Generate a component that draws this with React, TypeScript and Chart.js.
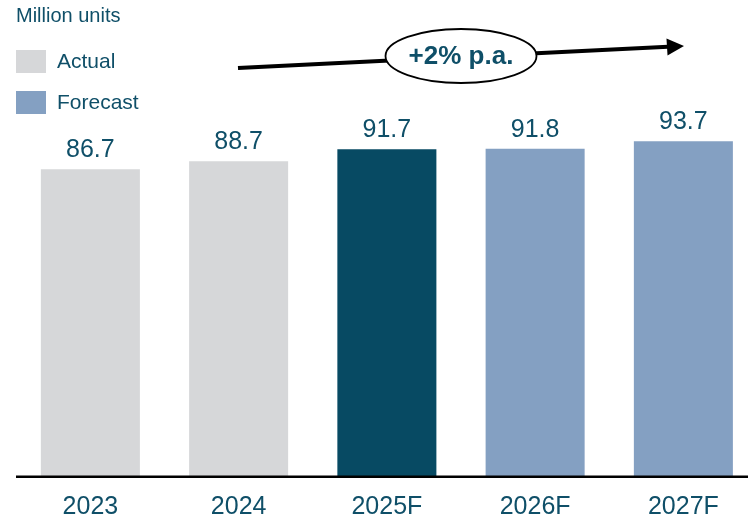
import { useEffect, useRef } from 'react';
import { Chart, registerables } from 'chart.js';

Chart.register(...registerables);

const categories = ['2023', '2024', '2025F', '2026F', '2027F'];
const values = [86.7, 88.7, 91.7, 91.8, 93.7];
const valueLabels = ['86.7', '88.7', '91.7', '91.8', '93.7'];
const barColors = ['#d6d7d9', '#d6d7d9', '#074a63', '#84a0c2', '#84a0c2'];
const legendItems = ['Actual', 'Forecast'];
const legendColors = ['#d6d7d9', '#84a0c2'];
const unitLabel = 'Million units';
const growthLabel = '+2% p.a.';

const TEXT = '#0f4f68';
const FONT = '"Liberation Sans", Arial, sans-serif';

const overlay = {
  id: 'overlay',
  afterDatasetsDraw(chart: any) {
    const ctx = chart.ctx as CanvasRenderingContext2D;
    ctx.save();

    // baseline axis
    ctx.fillStyle = '#000';
    ctx.fillRect(16, 475.5, 732, 2.5);

    // value labels
    const meta = chart.getDatasetMeta(0);
    ctx.font = `25px ${FONT}`;
    ctx.fillStyle = TEXT;
    ctx.textAlign = 'center';
    ctx.textBaseline = 'alphabetic';
    meta.data.forEach((el: any, i: number) => {
      ctx.fillText(valueLabels[i], el.x, el.y - 12);
    });

    // unit title
    ctx.textAlign = 'left';
    ctx.textBaseline = 'middle';
    ctx.font = `20px ${FONT}`;
    ctx.fillText(unitLabel, 16, 16);

    // legend
    ctx.font = `21px ${FONT}`;
    const legendY = [50, 91];
    legendItems.forEach((t, i) => {
      ctx.fillStyle = legendColors[i];
      ctx.fillRect(16, legendY[i], 30, 23);
      ctx.fillStyle = TEXT;
      ctx.fillText(t, 57, legendY[i] + 12);
    });

    // growth arrow
    ctx.strokeStyle = '#000';
    ctx.lineWidth = 4;
    ctx.beginPath();
    ctx.moveTo(238, 68);
    ctx.lineTo(668, 46.8);
    ctx.stroke();
    ctx.fillStyle = '#000';
    ctx.beginPath();
    ctx.moveTo(684, 46);
    ctx.lineTo(666.5, 38.5);
    ctx.lineTo(667.5, 55.5);
    ctx.closePath();
    ctx.fill();

    // ellipse
    ctx.beginPath();
    ctx.ellipse(461, 56, 75.5, 27, 0, 0, Math.PI * 2);
    ctx.fillStyle = '#fff';
    ctx.fill();
    ctx.lineWidth = 1.8;
    ctx.strokeStyle = '#000';
    ctx.stroke();

    ctx.fillStyle = TEXT;
    ctx.font = `bold 26px ${FONT}`;
    ctx.textAlign = 'center';
    ctx.textBaseline = 'middle';
    ctx.fillText(growthLabel, 461, 57);

    ctx.restore();
  },
};

export default function App() {
  const ref = useRef<HTMLCanvasElement | null>(null);

  useEffect(() => {
    document.body.style.margin = '0';
    if (!ref.current) return;
    const chart = new Chart(ref.current, {
      type: 'bar',
      data: {
        labels: categories,
        datasets: [
          {
            data: values,
            backgroundColor: barColors,
            borderWidth: 0,
            barPercentage: 0.668,
            categoryPercentage: 1,
          },
        ],
      },
      options: {
        responsive: false,
        animation: false,
        devicePixelRatio: 1,
        layout: { padding: { top: 36, left: 16.25, right: 7.5, bottom: 0 } },
        plugins: { legend: { display: false }, tooltip: { enabled: false } },
        scales: {
          x: {
            grid: { display: false, drawTicks: false },
            border: { display: false },
            ticks: { color: TEXT, font: { size: 25, family: FONT }, padding: 16 },
            afterFit: (s: any) => {
              s.height = 43;
            },
          },
          y: { display: false, min: 10, max: 120 },
        },
      },
      plugins: [overlay],
    });
    return () => chart.destroy();
  }, []);

  return (
    <div style={{ width: 748, height: 519, overflow: 'hidden', position: 'relative' }}>
      <canvas ref={ref} width={765} height={519} style={{ position: 'absolute', left: 0, top: 0 }} />
    </div>
  );
}
